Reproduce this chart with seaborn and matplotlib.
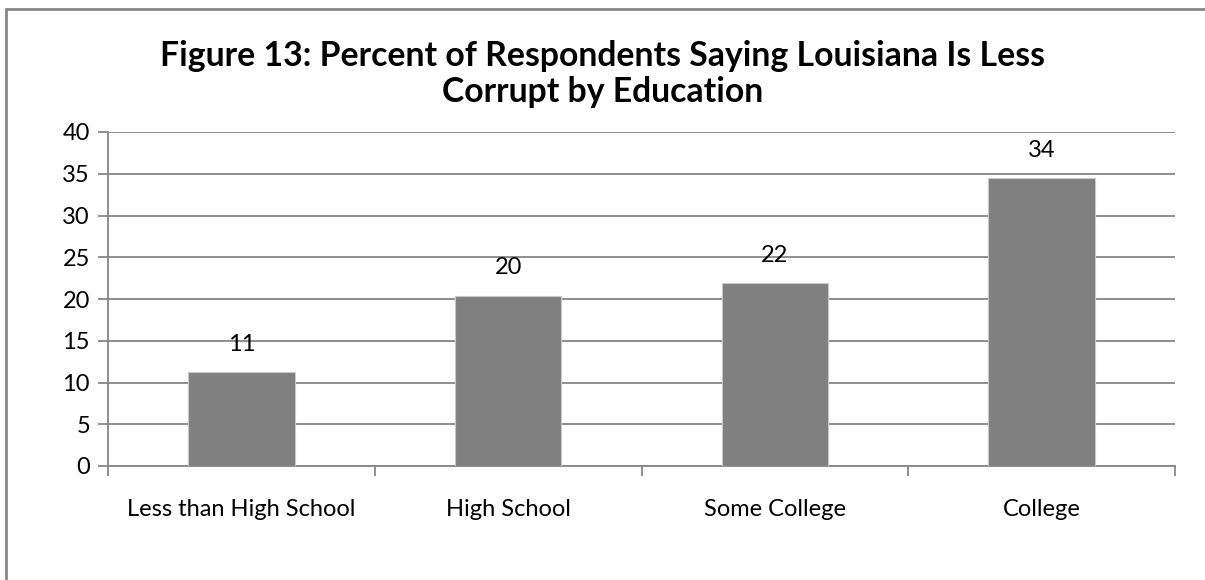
import matplotlib
matplotlib.use("Agg")
import matplotlib.pyplot as plt
import seaborn as sns
import pandas as pd
from matplotlib.lines import Line2D

categories = ["Less than High School", "High School", "Some College", "College"]
values = [11.2, 20.4, 21.9, 34.5]
value_labels = ["11", "20", "22", "34"]
yticks = [0, 5, 10, 15, 20, 25, 30, 35, 40]
title = "Figure 13: Percent of Respondents Saying Louisiana Is Less\nCorrupt by Education"

sns.set_theme(style="white")
plt.rcParams['font.family'] = ['Lato', 'DejaVu Sans']

df = pd.DataFrame({"cat": categories, "val": values})

fig = plt.figure(figsize=(12.05, 5.8), dpi=100)
ax = fig.add_axes([108/1205, 1-466/580, (1175-108)/1205, (466-132)/580])

grid_color = "#868686"
sns.barplot(data=df, x="cat", y="val", color="#808080", width=0.4,
            saturation=1, edgecolor="#c8c8c8", linewidth=0.8, ax=ax, zorder=3)

ax.set_ylim(0, 40)
ax.set_xlim(-0.5, 3.5)
ax.set_yticks(yticks)
ax.set_yticklabels([str(t) for t in yticks], fontsize=17, color="black")
ax.yaxis.grid(True, color=grid_color, linewidth=1.3, zorder=0)
ax.set_axisbelow(True)
ax.set_xlabel("")
ax.set_ylabel("")

ax.set_xticks(range(len(categories)))
ax.set_xticklabels(categories, fontsize=17, color="black")
ax.set_xticks([i - 0.5 for i in range(len(categories) + 1)], minor=True)
ax.tick_params(axis="x", which="major", length=0, pad=24)
ax.tick_params(axis="x", which="minor", length=7, width=1.3, color=grid_color, direction="out", bottom=True)
ax.tick_params(axis="y", which="major", length=7, width=1.3, color=grid_color, direction="out", left=True, pad=6)

for side in ["top", "right"]:
    ax.spines[side].set_visible(False)
for side in ["left", "bottom"]:
    ax.spines[side].set_color(grid_color)
    ax.spines[side].set_linewidth(1.3)

for i, (v, lab) in enumerate(zip(values, value_labels)):
    ax.annotate(lab, (i, v), xytext=(0, 20), textcoords="offset points",
                ha="center", va="center", fontsize=17, color="black")

fig.text(0.5, 1-74/580, title, ha="center", va="center", fontsize=24.3,
         fontweight="bold", linespacing=1.15, color="black")

# outer chart border (top and left visible)
fig.add_artist(Line2D([5.5/1205, 1.0], [1-8.5/580, 1-8.5/580], transform=fig.transFigure,
                      color="#888888", linewidth=2))
fig.add_artist(Line2D([5.5/1205, 5.5/1205], [0.0, 1-8.5/580], transform=fig.transFigure,
                      color="#888888", linewidth=2))

fig.savefig("out.png", dpi=100)
